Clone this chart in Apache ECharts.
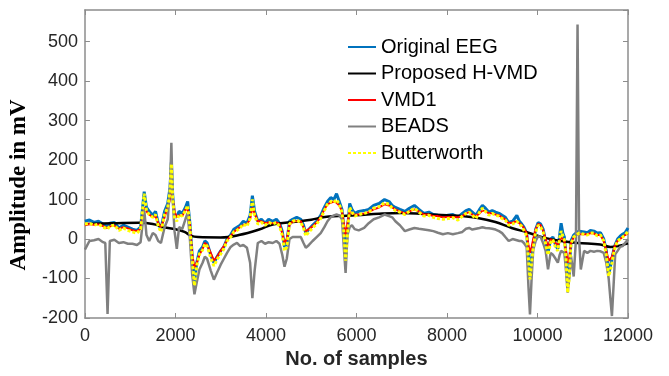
<!DOCTYPE html>
<html>
<head>
<meta charset="utf-8">
<script src="https://cdn.jsdelivr.net/npm/echarts@6/dist/echarts.min.js"></script>
<style>
html,body{margin:0;padding:0;background:#fff;}
#chart{width:669px;height:376px;}
</style>
</head>
<body>
<div id="chart"></div>
<script>
// x positions (No. of samples) shared by Original EEG, VMD1, BEADS, Butterworth
var samples = [0,100,200,300,400,450,500,550,650,750,850,950,1050,1150,1230,1310,1360,1420,1500,1560,1620,1680,1760,1830,1880,1910,1940,1980,2030,2080,2150,2220,2270,2320,2370,2420,2470,2530,2600,2650,2700,2780,2850,2920,3000,3070,3140,3220,3290,3360,3430,3500,3580,3650,3700,3750,3820,3900,3980,4060,4150,4230,4300,4360,4410,4460,4520,4590,4680,4770,4830,4880,4950,5030,5120,5210,5290,5360,5430,5500,5560,5620,5680,5720,5760,5800,5850,5900,5960,6050,6170,6270,6380,6500,6620,6720,6790,6860,6960,7070,7170,7280,7380,7490,7600,7700,7800,7910,8020,8130,8240,8340,8420,8490,8560,8640,8720,8783,8850,8928,9000,9073,9150,9218,9290,9363,9450,9544,9600,9652,9700,9761,9800,9834,9870,9906,9960,10015,10070,10124,10180,10233,10290,10341,10400,10450,10490,10522,10560,10594,10630,10667,10700,10740,10800,10850,10885,10920,10957,11030,11102,11170,11247,11320,11392,11464,11520,11573,11610,11645,11680,11717,11770,11826,11880,11935,12000];

var originalEEG = [45,48,42,45,38,35,32,40,42,28,35,30,25,22,30,120,80,70,60,70,40,25,70,90,130,195,110,60,55,70,65,80,95,40,-40,-110,-60,-30,-20,-5,-10,-40,-60,-45,-30,-20,0,10,25,30,35,45,40,60,110,70,45,50,40,50,45,50,40,20,-20,-10,45,50,55,50,35,15,25,35,45,60,80,95,105,100,115,95,75,30,-50,20,90,75,65,70,72,75,85,90,100,95,85,80,75,70,78,85,75,65,68,62,60,58,60,62,55,65,72,75,68,60,75,85,78,68,72,68,65,60,55,42,45,60,45,38,30,15,-40,-95,-50,-15,25,42,38,25,-5,-35,0,5,-15,-25,10,40,15,5,-40,-120,-90,-5,10,15,18,20,22,18,16,22,20,15,16,0,-30,-90,-70,-50,-30,-14,0,7,12,16,28];

var butterworth = [38,40,35,38,30,28,25,33,35,22,28,22,18,15,25,115,72,62,55,62,32,18,62,80,120,190,100,55,45,62,58,72,85,30,-50,-118,-68,-38,-28,-12,-18,-48,-68,-52,-38,-25,-5,5,18,22,28,38,32,52,100,60,38,42,35,42,38,42,32,10,-30,-20,38,45,48,42,28,8,18,28,38,52,72,88,95,92,100,88,68,20,-55,10,80,68,58,62,65,68,78,82,92,88,78,72,68,62,70,78,68,58,60,55,52,50,52,54,48,58,65,68,60,52,68,78,70,60,65,60,58,52,48,35,38,45,38,32,22,8,-50,-102,-58,-22,18,35,30,18,-12,-40,-8,-2,-22,-30,2,20,8,-2,-48,-136,-100,-12,5,10,12,15,15,12,10,15,15,8,10,-5,-40,-94,-80,-60,-38,-20,-5,0,5,10,20];

var vmd1 = [35,38,36,37,33,30,28,32,34,26,30,27,22,20,26,80,70,62,55,58,40,30,55,80,100,120,105,70,55,60,58,75,75,35,-40,-72,-60,-40,-25,-10,-15,-35,-55,-45,-30,-18,-3,8,18,25,30,35,38,50,80,65,45,45,40,42,40,42,38,15,-10,0,35,45,45,45,30,20,25,32,42,55,75,88,92,95,92,85,70,40,8,40,70,65,62,62,65,68,75,80,88,85,80,75,70,65,70,75,70,62,62,58,58,55,56,56,55,58,65,68,62,58,65,72,70,65,65,62,60,55,50,40,42,45,40,35,28,15,-15,-35,-20,0,25,38,35,22,0,-20,0,-5,-10,-15,-5,5,5,-5,-30,-60,-50,-10,5,10,12,12,15,12,12,15,14,10,10,-5,-30,-55,-60,-45,-30,-15,-5,0,5,10,15];

var beads = [-27,-5,-3,0,-8,-10,-190,-5,-2,-10,-8,-12,-12,-15,-8,75,10,-5,15,10,-5,-10,30,50,130,244,100,20,-25,30,25,50,66,0,-90,-140,-110,-77,-60,-45,-50,-80,-103,-85,-65,-50,-35,-20,-14,-10,-18,-15,-22,-60,-150,-80,-10,-5,-12,-8,-10,-5,-12,-40,-70,-50,0,5,5,5,-10,-22,-15,-5,5,15,30,45,55,60,62,60,50,-20,-86,10,30,35,25,22,28,40,50,55,62,58,55,45,35,20,24,28,26,24,22,20,16,12,15,12,15,18,26,28,24,26,28,30,28,27,26,24,20,15,5,-5,0,-3,-5,-5,-10,-20,-120,-191,-100,-27,-5,7,5,-10,-30,-77,-35,-40,-50,-60,-40,-30,-30,-35,-80,-136,-100,-43,-95,0,543,0,-77,-30,-35,-30,-32,-30,-31,-35,-60,-100,-150,-195,-120,-39,-30,-20,-18,-10,-1];

// Proposed H-VMD (smooth trend)
var hvmdSamples = [0,600,1200,1500,1750,2000,2200,2350,2500,3000,3400,3850,4150,4600,5000,5300,5600,6000,6500,7000,7500,8000,8350,8650,9070,9430,9800,10160,10520,10890,11390,11610,12000];
var hvmdValues = [38,40,41,38,30,25,18,8,5,4,10,24,37,43,49,56,58,60,64,66,63,60,58,54,43,28,16,3,-5,-10,-14,-20,-11];

var seriesNames = ['Original EEG','Proposed H-VMD','VMD1','BEADS','Butterworth'];
var xTicks = [0,2000,4000,6000,8000,10000,12000];
var yTicks = [-200,-100,0,100,200,300,400,500];

function pairs(xs, ys){ return xs.map(function(x,i){ return [x, ys[i]]; }); }

var chart = echarts.init(document.getElementById('chart'), null, {renderer:'canvas'});
var axisCol = '#8c8c8c';
var labelCol = '#262626';
var tickFont = 'Liberation Sans, Arial, sans-serif';
function plain(v){ return String(v); }

chart.setOption({
  animation:false,
  backgroundColor:'#fff',
  grid:{left:76,right:41,top:10,bottom:58,containLabel:false},
  legend:{
    show:true, orient:'vertical', left:347, top:37, padding:0,
    itemWidth:28, itemHeight:14, itemGap:6.5,
    data:seriesNames,
    itemStyle:{opacity:0},
    textStyle:{fontSize:20, lineHeight:20, color:'#000', fontFamily:tickFont}
  },
  xAxis:[{
    type:'value', min:xTicks[0], max:xTicks[xTicks.length-1], interval:2000,
    name:'No. of samples', nameLocation:'middle', nameGap:27,
    nameTextStyle:{fontSize:20, fontWeight:'bold', color:labelCol, fontFamily:tickFont},
    axisLine:{show:true, onZero:false, lineStyle:{color:axisCol, width:1.5}},
    axisTick:{show:true, inside:true, length:5, lineStyle:{color:axisCol}},
    axisLabel:{fontSize:18, color:labelCol, fontFamily:tickFont, margin:9, formatter:plain},
    splitLine:{show:false}
  },{
    type:'value', position:'top', min:0, max:12000, interval:2000,
    axisLine:{show:true, onZero:false, lineStyle:{color:axisCol, width:1.5}},
    axisTick:{show:true, inside:true, length:5, lineStyle:{color:axisCol}},
    axisLabel:{show:false}, splitLine:{show:false}
  }],
  yAxis:[{
    type:'value', min:yTicks[0], max:580, interval:100,
    name:'Amplitude in mV', nameLocation:'middle', nameGap:43,
    nameTextStyle:{fontSize:23, fontWeight:'bold', color:'#000', fontFamily:'Liberation Serif, Times New Roman, serif', padding:[0,42,0,0]},
    axisLine:{show:true, onZero:false, lineStyle:{color:axisCol, width:1.5}},
    axisTick:{show:true, inside:true, length:5, lineStyle:{color:axisCol}},
    axisLabel:{fontSize:18, color:labelCol, fontFamily:tickFont, margin:7, showMaxLabel:false, formatter:plain},
    splitLine:{show:false}
  },{
    type:'value', position:'right', min:-200, max:580, interval:100,
    axisLine:{show:true, onZero:false, lineStyle:{color:axisCol, width:1.5}},
    axisTick:{show:true, inside:true, length:5, lineStyle:{color:axisCol}},
    axisLabel:{show:false}, splitLine:{show:false}
  }],
  series:[
    {name:seriesNames[0], type:'line', data:pairs(samples, originalEEG), showSymbol:false, symbol:'none', lineStyle:{color:'#0072BD', width:3}, itemStyle:{color:'#0072BD'}, z:1},
    {name:seriesNames[1], type:'line', data:pairs(hvmdSamples, hvmdValues), showSymbol:false, symbol:'none', smooth:0.4, lineStyle:{color:'#000', width:2.5}, itemStyle:{color:'#000'}, z:2},
    {name:seriesNames[2], type:'line', data:pairs(samples, vmd1), showSymbol:false, symbol:'none', lineStyle:{color:'#FF0000', width:2}, itemStyle:{color:'#FF0000'}, z:3},
    {name:seriesNames[3], type:'line', data:pairs(samples, beads), showSymbol:false, symbol:'none', lineStyle:{color:'#808080', width:2.5}, itemStyle:{color:'#808080'}, z:4},
    {name:seriesNames[4], type:'line', data:pairs(samples, butterworth), showSymbol:false, symbol:'none', lineStyle:{color:'#FFFF00', width:3, type:[3,2]}, itemStyle:{color:'#FFFF00'}, z:5}
  ]
});
</script>
</body>
</html>
